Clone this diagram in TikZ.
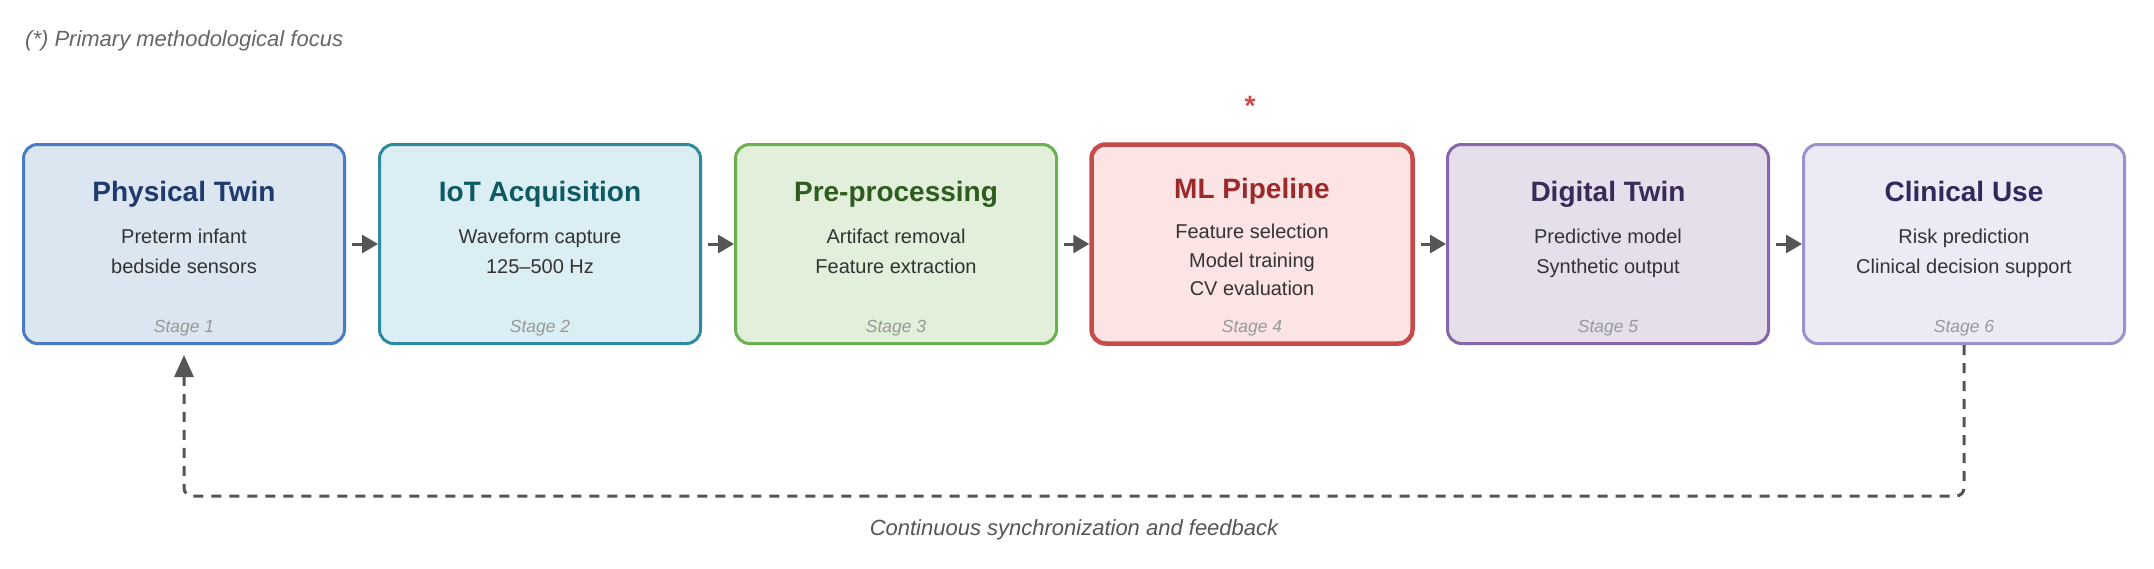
\documentclass[tikz,border=0pt]{standalone}
\usepackage{fontspec}
\setmainfont{Liberation Sans}
\usetikzlibrary{arrows.meta}
\definecolor{arrowgray}{HTML}{555555}
\definecolor{subgray}{HTML}{333333}
\definecolor{stagegray}{HTML}{999999}
\definecolor{capgray}{HTML}{666666}
\definecolor{fillA}{HTML}{DCE6F1}\definecolor{drawA}{HTML}{4A7CC4}\definecolor{titleA}{HTML}{1F3A6E}
\definecolor{fillB}{HTML}{DAEEF3}\definecolor{drawB}{HTML}{2E8B9E}\definecolor{titleB}{HTML}{0E5A63}
\definecolor{fillC}{HTML}{E2EFDA}\definecolor{drawC}{HTML}{6AAF50}\definecolor{titleC}{HTML}{2E5C1E}
\definecolor{fillD}{HTML}{FCE4E4}\definecolor{drawD}{HTML}{C84B4B}\definecolor{titleD}{HTML}{9C2A2A}
\definecolor{fillE}{HTML}{E5DFEB}\definecolor{drawE}{HTML}{8866AA}\definecolor{titleE}{HTML}{3A2A58}
\definecolor{fillF}{HTML}{EBEBF6}\definecolor{drawF}{HTML}{9A92CC}\definecolor{titleF}{HTML}{2F2A5E}
\tikzset{
  stagebox/.style={draw, rounded corners=14pt, line width=3pt, minimum width=321pt, minimum height=199pt, inner sep=0pt},
  titletext/.style={anchor=base, inner sep=0pt, font=\fontsize{28}{32}\selectfont\bfseries},
  subtext/.style={anchor=base, inner sep=0pt, text=subgray, font=\fontsize{20}{24}\selectfont},
  stagetext/.style={anchor=base, inner sep=0pt, text=stagegray, font=\fontsize{17.5}{21}\selectfont\itshape},
  flowarrow/.style={draw=arrowgray, line width=3pt, -{Triangle[length=16pt,width=18pt]}},
  feedback/.style={draw=arrowgray, line width=3pt, dash pattern=on 10pt off 8pt, rounded corners=8pt, -{Triangle[length=22pt,width=19pt]}},
}
\begin{document}
\begin{tikzpicture}[x=1pt,y=-1pt]
\useasboundingbox[fill=white] (0,0) rectangle (2154,568);
\node[anchor=base west, inner sep=0pt, text=capgray, font=\fontsize{22}{26}\selectfont\itshape] (cap) at (25,46) {(*) Primary methodological focus};
% boxes
\node[stagebox, draw=drawA, fill=fillA] (b1) at (184,244) {};
\node[stagebox, draw=drawB, fill=fillB] (b2) at (540,244) {};
\node[stagebox, draw=drawC, fill=fillC] (b3) at (896,244) {};
\node[stagebox, draw=drawD, fill=fillD, line width=4.5pt] (b4) at (1252,244) {};
\node[stagebox, draw=drawE, fill=fillE] (b5) at (1608,244) {};
\node[stagebox, draw=drawF, fill=fillF] (b6) at (1964,244) {};
% star
\node[inner sep=0pt, text=drawD, font=\fontsize{28}{32}\selectfont\bfseries] (star) at (1250,106) {*};
% titles
\node[titletext, text=titleA] (t1) at (184,201) {Physical Twin};
\node[titletext, text=titleB] (t2) at (540,201) {IoT Acquisition};
\node[titletext, text=titleC] (t3) at (896,201) {Pre-processing};
\node[titletext, text=titleD] (t4) at (1252,198) {ML Pipeline};
\node[titletext, text=titleE] (t5) at (1608,201) {Digital Twin};
\node[titletext, text=titleF] (t6) at (1964,201) {Clinical Use};
% sub texts
\node[subtext] (s1a) at (184,243) {Preterm infant};
\node[subtext] (s1b) at (184,273) {bedside sensors};
\node[subtext] (s2a) at (540,243) {Waveform capture};
\node[subtext] (s2b) at (540,273) {125–500 Hz};
\node[subtext] (s3a) at (896,243) {Artifact removal};
\node[subtext] (s3b) at (896,273) {Feature extraction};
\node[subtext] (s4a) at (1252,238) {Feature selection};
\node[subtext] (s4b) at (1252,267) {Model training};
\node[subtext] (s4c) at (1252,295) {CV evaluation};
\node[subtext] (s5a) at (1608,243) {Predictive model};
\node[subtext] (s5b) at (1608,273) {Synthetic output};
\node[subtext] (s6a) at (1964,243) {Risk prediction};
\node[subtext] (s6b) at (1964,273) {Clinical decision support};
% stage labels
\node[stagetext] (g1) at (184,332) {Stage 1};
\node[stagetext] (g2) at (540,332) {Stage 2};
\node[stagetext] (g3) at (896,332) {Stage 3};
\node[stagetext] (g4) at (1252,332) {Stage 4};
\node[stagetext] (g5) at (1608,332) {Stage 5};
\node[stagetext] (g6) at (1964,332) {Stage 6};
% flow arrows
\draw[flowarrow] ([xshift=6pt]b1.east) -- (b2.west);
\draw[flowarrow] ([xshift=6pt]b2.east) -- (b3.west);
\draw[flowarrow] ([xshift=6pt]b3.east) -- (b4.west);
\draw[flowarrow] ([xshift=6pt]b4.east) -- (b5.west);
\draw[flowarrow] ([xshift=6pt]b5.east) -- (b6.west);
% feedback loop
\coordinate (fb) at (1074,496);
\draw[feedback] (b6.south) |- (fb) -| ([yshift=-10pt]b1.south);
\node[anchor=base, inner sep=0pt, text=arrowgray, font=\fontsize{22}{26}\selectfont\itshape] (fblabel) at (1074,535) {Continuous synchronization and feedback};
\end{tikzpicture}
\end{document}
